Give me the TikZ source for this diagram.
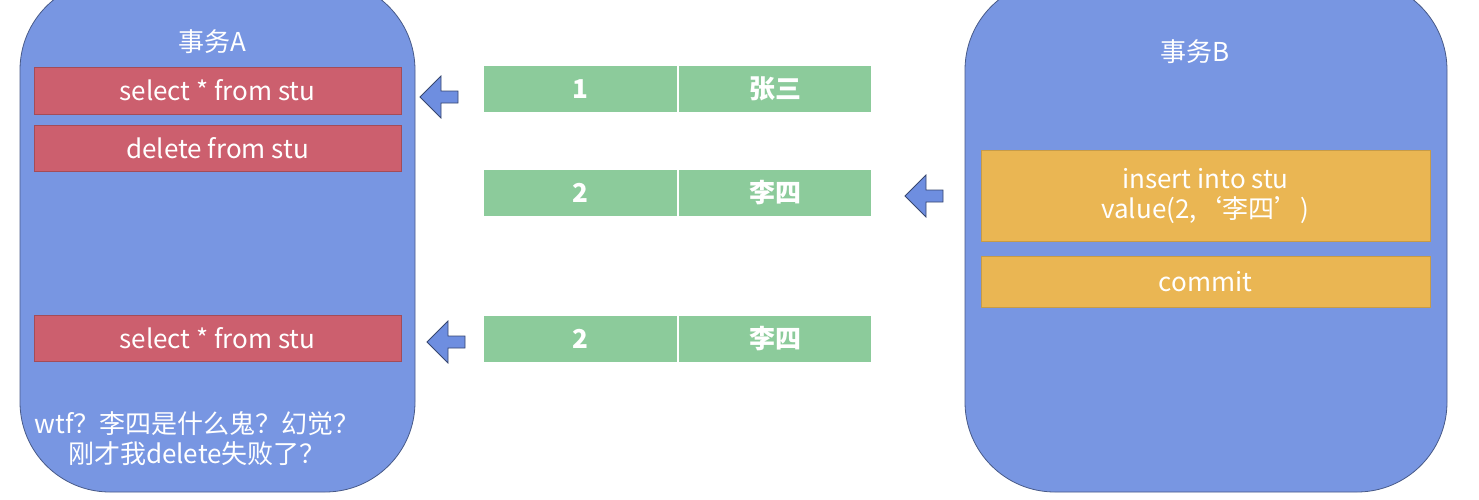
\documentclass[tikz,border=0pt]{standalone}
\usepackage{fontspec}
\setmainfont{Noto Sans CJK SC}
\usetikzlibrary{shapes.arrows}
\definecolor{panelblue}{HTML}{7896E2}
\definecolor{sqlred}{HTML}{CC5F6E}
\definecolor{rowgreen}{HTML}{8CCB9B}
\definecolor{sqlyellow}{HTML}{EAB653}
\definecolor{arrowblue}{HTML}{6E8EE0}

\begin{document}
\begin{tikzpicture}[x=0.5pt,y=-0.5pt,
    panel/.style={draw=panelblue!60!black, fill=panelblue, rounded corners=45pt},
    sql/.style={draw=sqlred!80!black, fill=sqlred, text=white, font=\fontsize{13}{15}\selectfont},
    cell/.style={fill=rowgreen, text=white, font=\bfseries\fontsize{13}{15}\selectfont},
    op/.style={draw=sqlyellow!85!black, fill=sqlyellow, text=white, align=center, font=\fontsize{13}{15}\selectfont},
    back/.style={single arrow, draw=arrowblue!50!black, fill=arrowblue, shape border rotate=180,
      minimum width=21pt, minimum height=19pt, single arrow head extend=3pt, inner sep=1pt},
    caption/.style={text=white, font=\fontsize{13}{15}\selectfont, align=center}
  ]
    \useasboundingbox (0,0) rectangle (1479,499);
    \fill[white] (0,0) rectangle (1479,499);

    % the two transactions
    \draw[panel] (20,-20) rectangle (415,492);
    \draw[panel] (965,-20) rectangle (1447,492);
    \node[caption] (titleA) at (212,42) {事务A};
    \node[caption] (titleB) at (1195,52) {事务B};

    % transaction A
    \path[sql] (34,67) rectangle (401,114) node[midway] (selA) {select * from stu};
    \path[sql] (34,125) rectangle (401,171) node[midway] (delA) {delete from stu};
    \path[sql] (34,315) rectangle (401,361) node[midway] (selB) {select * from stu};
    \node[caption] (wtf) at (197,439) {wtf？李四是什么鬼？幻觉？\\刚才我delete失败了？};

    % rows of stu
    \foreach \y/\id/\name [count=\i] in {66/1/张三, 170/2/李四, 316/2/李四} {
      \fill[cell] (484,\y) rectangle (677,\y+46) node[midway] (id\i) {\id};
      \fill[cell] (679,\y) rectangle (871,\y+46) node[midway] (name\i) {\name};
    }

    % transaction B
    \path[op] (981,150) rectangle (1430,241) node[midway] (ins) {insert into stu\\value(2,‘李四’)};
    \path[op] (981,256) rectangle (1430,307) node[midway] (com) {commit};

    % reads and writes
    \node[back] (a1) at (442,97) {};
    \node[back] (a2) at (927,196) {};
    \node[back] (a3) at (449,342) {};
  \end{tikzpicture}
\end{document}
